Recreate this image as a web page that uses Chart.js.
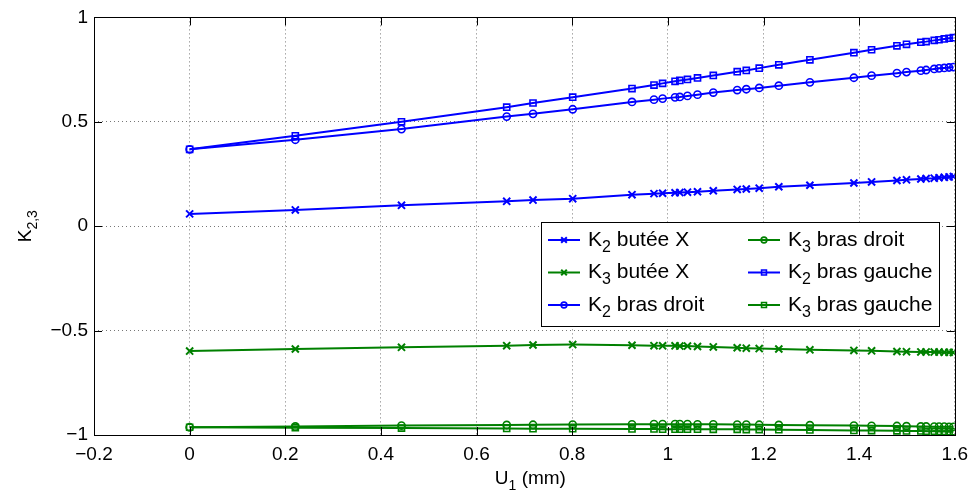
<!DOCTYPE html>
<html>
<head>
<meta charset="utf-8">
<script src="https://cdn.jsdelivr.net/npm/chart.js@4"></script>
<style>
  html, body { margin: 0; padding: 0; background: #fff; }
  #wrap { width: 976px; height: 493px; }
</style>
</head>
<body>
<div id="wrap"><canvas id="myChart" width="976" height="493"></canvas></div>
<script>
// U1 (mm) - same sampling for all series
const u1 = [0, 0.221, 0.443, 0.663, 0.718, 0.801, 0.925, 0.971, 0.989, 1.015, 1.025, 1.041, 1.062, 1.095, 1.145,
  1.164, 1.191, 1.232, 1.297, 1.389, 1.426, 1.479, 1.499, 1.529, 1.540, 1.557, 1.567, 1.578, 1.588, 1.597];

const k2ButeeX = [0.059, 0.078, 0.100, 0.119, 0.125, 0.132, 0.151, 0.156, 0.158, 0.160, 0.161, 0.163, 0.165, 0.170, 0.176,
  0.178, 0.182, 0.189, 0.196, 0.207, 0.212, 0.219, 0.222, 0.226, 0.228, 0.230, 0.232, 0.234, 0.236, 0.238];
const k3ButeeX = [-0.598, -0.588, -0.580, -0.572, -0.569, -0.567, -0.570, -0.572, -0.573, -0.573, -0.574, -0.574, -0.576, -0.578, -0.582,
  -0.584, -0.586, -0.588, -0.592, -0.595, -0.597, -0.600, -0.601, -0.602, -0.602, -0.603, -0.603, -0.604, -0.604, -0.605];
const k2BrasDroit = [0.368, 0.414, 0.465, 0.525, 0.538, 0.560, 0.595, 0.606, 0.611, 0.617, 0.619, 0.624, 0.630, 0.640, 0.652,
  0.656, 0.662, 0.673, 0.689, 0.711, 0.721, 0.733, 0.738, 0.745, 0.748, 0.753, 0.756, 0.758, 0.760, 0.762];
const k3BrasDroit = [-0.963, -0.959, -0.955, -0.952, -0.951, -0.950, -0.949, -0.948, -0.948, -0.948, -0.948, -0.948, -0.949, -0.949, -0.950,
  -0.950, -0.951, -0.952, -0.953, -0.955, -0.956, -0.957, -0.958, -0.959, -0.959, -0.960, -0.960, -0.960, -0.961, -0.961];
const k2BrasGauche = [0.368, 0.433, 0.500, 0.570, 0.590, 0.618, 0.659, 0.676, 0.684, 0.694, 0.698, 0.703, 0.710, 0.722, 0.740,
  0.746, 0.757, 0.773, 0.797, 0.831, 0.845, 0.864, 0.871, 0.881, 0.884, 0.890, 0.893, 0.897, 0.900, 0.903];
const k3BrasGauche = [-0.963, -0.965, -0.967, -0.969, -0.970, -0.970, -0.971, -0.971, -0.972, -0.972, -0.972, -0.972, -0.972, -0.973, -0.973,
  -0.974, -0.974, -0.975, -0.976, -0.978, -0.979, -0.980, -0.981, -0.981, -0.982, -0.982, -0.983, -0.983, -0.984, -0.984];

// legend labels: [main, subscript, rest]
const labels = [
  ['K', '2', ' butée X'],
  ['K', '3', ' butée X'],
  ['K', '2', ' bras droit'],
  ['K', '3', ' bras droit'],
  ['K', '2', ' bras gauche'],
  ['K', '3', ' bras gauche']
];
const xTicks = [-0.2, 0, 0.2, 0.4, 0.6, 0.8, 1, 1.2, 1.4, 1.6];
const yTicks = [-1, -0.5, 0, 0.5, 1];

const BLUE = '#0000ff';
const GREEN = '#008000';
const FONT = '"Liberation Sans", Arial, Helvetica, sans-serif';

const MARK = {
  crossRot: { r: 5, w: 2 },
  circle: { r: 3.6, w: 1.6 },
  rect: { r: 4.3, w: 1.6 }
};

function series(ys, color, style) {
  return {
    data: u1.map((x, i) => ({ x: x, y: ys[i] })),
    borderColor: color,
    backgroundColor: color,
    pointBorderColor: color,
    pointBackgroundColor: 'rgba(0,0,0,0)',
    pointStyle: style,
    pointRadius: MARK[style].r,
    pointBorderWidth: MARK[style].w,
    borderWidth: 2,
    tension: 0
  };
}

const fmt = v => {
  const s = String(Number(v.toFixed(1)));
  return s.replace('-', '\u2212');
};

// draws "K" + subscript + rest, returns end x
function subText(ctx, parts, x, y, size) {
  ctx.font = size + 'px ' + FONT;
  ctx.fillText(parts[0], x, y);
  x += ctx.measureText(parts[0]).width;
  ctx.font = Math.round(size * 0.75) + 'px ' + FONT;
  ctx.fillText(parts[1], x, y + size * 0.35);
  x += ctx.measureText(parts[1]).width;
  ctx.font = size + 'px ' + FONT;
  ctx.fillText(parts[2], x, y);
  return x + ctx.measureText(parts[2]).width;
}

const matlabFrame = {
  id: 'matlabFrame',
  afterDraw(chart) {
    const ctx = chart.ctx;
    const a = chart.chartArea;
    const xs = chart.scales.x, ys = chart.scales.y;
    ctx.save();
    ctx.strokeStyle = '#000';
    ctx.lineWidth = 1;
    ctx.beginPath();
    xTicks.forEach(t => {
      const px = Math.round(xs.getPixelForValue(t)) + 0.5;
      ctx.moveTo(px, a.bottom); ctx.lineTo(px, a.bottom - 8);
      ctx.moveTo(px, a.top); ctx.lineTo(px, a.top + 8);
    });
    yTicks.forEach(t => {
      const py = Math.round(ys.getPixelForValue(t)) + 0.5;
      ctx.moveTo(a.left, py); ctx.lineTo(a.left + 8, py);
      ctx.moveTo(a.right, py); ctx.lineTo(a.right - 8, py);
    });
    ctx.stroke();
    ctx.strokeRect(Math.round(a.left) + 0.5, Math.round(a.top) + 0.5,
      Math.round(a.right - a.left), Math.round(a.bottom - a.top));

    // axis titles
    ctx.fillStyle = '#000';
    ctx.textBaseline = 'middle';
    ctx.textAlign = 'left';
    const xt = ['U', '1', ' (mm)'];
    let w = 0;
    ctx.font = '19px ' + FONT; w += ctx.measureText('U').width + ctx.measureText(' (mm)').width;
    ctx.font = '14px ' + FONT; w += ctx.measureText('1').width;
    subText(ctx, xt, (a.left + a.right) / 2 - w / 2 + 6, 479, 19);

    ctx.save();
    ctx.translate(26, (a.top + a.bottom) / 2);
    ctx.rotate(-Math.PI / 2);
    const yt = ['K', '2,3', ''];
    ctx.font = '19px ' + FONT; let wy = ctx.measureText('K').width;
    ctx.font = '14px ' + FONT; wy += ctx.measureText('2,3').width;
    subText(ctx, yt, -wy / 2, 0, 19);
    ctx.restore();

    // legend
    const lx = 541, ly = 222, lw = 398, lh = 104;
    ctx.fillStyle = '#fff';
    ctx.fillRect(lx, ly, lw, lh);
    ctx.strokeStyle = '#000';
    ctx.lineWidth = 1;
    ctx.strokeRect(lx + 0.5, ly + 0.5, lw, lh);
    chart.data.datasets.forEach((ds, i) => {
      const col = Math.floor(i / 3), row = i % 3;
      const x0 = lx + 7 + col * 200;
      const y0 = ly + 18 + row * 32.5;
      ctx.strokeStyle = ds.borderColor;
      ctx.lineWidth = 2;
      ctx.beginPath();
      ctx.moveTo(x0, y0); ctx.lineTo(x0 + 32, y0);
      ctx.stroke();
      ctx.fillStyle = 'rgba(0,0,0,0)';
      ctx.lineWidth = ds.pointBorderWidth;
      Chart.helpers.drawPoint(ctx, {
        pointStyle: ds.pointStyle, radius: ds.pointRadius * 0.8, rotation: 0, borderWidth: ds.pointBorderWidth
      }, x0 + 16, y0);
      ctx.fillStyle = '#000';
      ctx.textAlign = 'left';
      ctx.textBaseline = 'middle';
      subText(ctx, labels[i], x0 + 40, y0, 21);
    });
    ctx.restore();
  }
};

Chart.defaults.font.family = FONT;
Chart.defaults.color = '#000';

const ctx = document.getElementById('myChart').getContext('2d');
const myChart = new Chart(ctx, {
  type: 'line',
  data: {
    datasets: [
      series(k2ButeeX, BLUE, 'crossRot'),
      series(k3ButeeX, GREEN, 'crossRot'),
      series(k2BrasDroit, BLUE, 'circle'),
      series(k3BrasDroit, GREEN, 'circle'),
      series(k2BrasGauche, BLUE, 'rect'),
      series(k3BrasGauche, GREEN, 'rect')
    ]
  },
  options: {
    responsive: false,
    animation: false,
    events: [],
    layout: { padding: { left: 0, right: 20, top: 15, bottom: 0 } },
    plugins: { legend: { display: false }, tooltip: { enabled: false } },
    scales: {
      x: {
        type: 'linear',
        min: -0.2,
        max: 1.6,
        afterFit: s => { s.height = 58; },
        afterBuildTicks: s => { s.ticks = xTicks.map(v => ({ value: v })); },
        ticks: { font: { size: 19 }, padding: 8, maxRotation: 0, callback: v => fmt(v) },
        grid: { color: '#777', drawTicks: false, lineWidth: 1 },
        border: { display: false, dash: [1, 3] }
      },
      y: {
        type: 'linear',
        min: -1,
        max: 1,
        afterFit: s => { s.width = 94; },
        afterBuildTicks: s => { s.ticks = yTicks.map(v => ({ value: v })); },
        ticks: { font: { size: 19 }, padding: 6, callback: v => fmt(v) },
        grid: { color: '#777', drawTicks: false, lineWidth: 1 },
        border: { display: false, dash: [1, 3] }
      }
    }
  },
  plugins: [matlabFrame]
});
</script>
</body>
</html>
